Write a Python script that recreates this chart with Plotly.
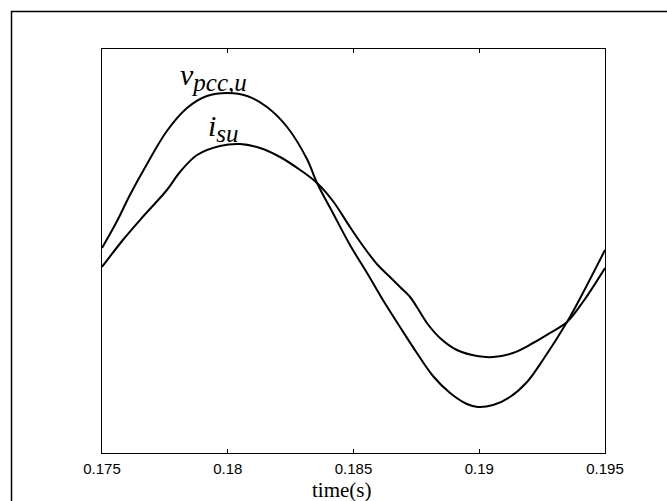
import plotly.graph_objects as go

# time axis (s)
t_v = [0.17500, 0.17560, 0.17611, 0.17679, 0.17758, 0.17838, 0.17917, 0.18001,
       0.18077, 0.18156, 0.18236, 0.18315, 0.18355, 0.18418, 0.18486, 0.18554,
       0.18617, 0.18685, 0.18752, 0.18816, 0.18884, 0.18951, 0.18995, 0.19055,
       0.19122, 0.19190, 0.19253, 0.19349, 0.19412, 0.19500]
v_pcc = [0.03, 0.30, 0.56, 0.87, 1.20, 1.43, 1.55, 1.58,
         1.55, 1.44, 1.24, 0.92, 0.68, 0.38, 0.06, -0.22,
         -0.49, -0.76, -1.02, -1.25, -1.42, -1.53, -1.56, -1.54,
         -1.46, -1.31, -1.09, -0.71, -0.42, 0.01]

t_i = [0.17500, 0.17583, 0.17658, 0.17758, 0.17810, 0.17878, 0.17969, 0.18049,
       0.18128, 0.18208, 0.18288, 0.18355, 0.18418, 0.18486, 0.18538, 0.18593,
       0.18645, 0.18685, 0.18725, 0.18752, 0.18792, 0.18844, 0.18911, 0.18991,
       0.19055, 0.19134, 0.19214, 0.19281, 0.19349, 0.19412, 0.19500]
i_su = [-0.16, 0.11, 0.33, 0.61, 0.79, 0.96, 1.05, 1.07,
        1.03, 0.94, 0.81, 0.68, 0.50, 0.24, 0.05, -0.13,
        -0.26, -0.36, -0.46, -0.56, -0.72, -0.87, -0.99, -1.05,
        -1.06, -1.02, -0.92, -0.82, -0.71, -0.51, -0.17]

x_ticks = [0.175, 0.18, 0.185, 0.19, 0.195]
x_ticktext = ["0.175", "0.18", "0.185", "0.19", "0.195"]

serif = "Liberation Serif, Times New Roman, serif"

fig = go.Figure()
fig.add_trace(go.Scatter(x=t_v, y=v_pcc, mode="lines",
                         line=dict(color="black", width=2, shape="spline", smoothing=1.0),
                         showlegend=False, hoverinfo="skip"))
fig.add_trace(go.Scatter(x=t_i, y=i_su, mode="lines",
                         line=dict(color="black", width=2, shape="spline", smoothing=1.0),
                         showlegend=False, hoverinfo="skip"))

fig.update_layout(
    width=667, height=501,
    margin=dict(l=102, r=62, t=49, b=48),
    paper_bgcolor="white", plot_bgcolor="white",
    xaxis=dict(range=[0.175, 0.195], tickvals=x_ticks, ticktext=x_ticktext,
               ticks="inside", ticklen=4, tickcolor="black", tickwidth=1,
               showline=True, linecolor="black", linewidth=1.2, mirror="ticks",
               showgrid=False, zeroline=False, ticklabelstandoff=2,
               tickfont=dict(family="Liberation Sans, Arial", size=15, color="black")),
    yaxis=dict(range=[-2.02, 2.02], showticklabels=False, ticks="",
               showline=True, linecolor="black", linewidth=1.2, mirror=True,
               showgrid=False, zeroline=False),
    annotations=[
        dict(x=0.476, y=-0.092, xref="paper", yref="paper", text="time(s)", showarrow=False,
             xanchor="center", yanchor="middle",
             font=dict(family=serif, size=21, color="black")),
        dict(x=0.17802, y=1.74, xref="x", yref="y",
             text="<i>v</i><sub><span style='font-size:25px'><i>pcc,u</i></span></sub>",
             showarrow=False, xanchor="left", yanchor="middle",
             font=dict(family=serif, size=30, color="black")),
        dict(x=0.17913, y=1.23, xref="x", yref="y",
             text="<i>i</i><sub><span style='font-size:25px'><i>su</i></span></sub>",
             showarrow=False, xanchor="left", yanchor="middle",
             font=dict(family=serif, size=30, color="black")),
    ],
    shapes=[
        dict(type="rect", xref="paper", yref="paper", x0=-0.1799, y0=-0.2, x1=1.2, y1=1.0928,
             line=dict(color="black", width=1.5), fillcolor="rgba(0,0,0,0)", layer="below"),
    ],
)

fig.write_html("out.html")
